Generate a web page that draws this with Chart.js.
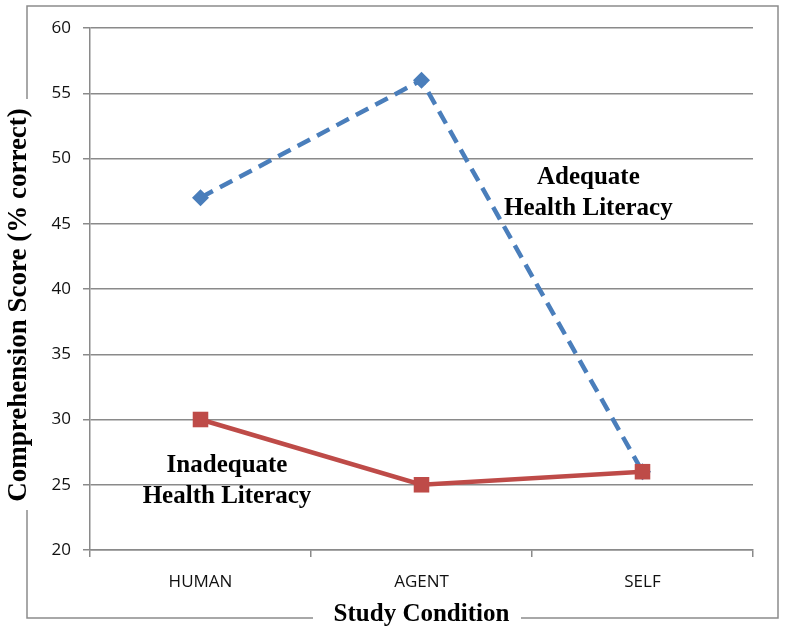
<!DOCTYPE html>
<html>
<head>
<meta charset="utf-8">
<script src="https://cdn.jsdelivr.net/npm/chart.js@4"></script>
<style>
  body { margin: 0; background: #fff; }
  #wrap { width: 785px; height: 634px; }
</style>
</head>
<body>
<div id="wrap"><canvas id="score-chart"></canvas></div>
<script>
const conditions = ['HUMAN', 'AGENT', 'SELF'];
const adequateScores = [47, 56, 26];
const inadequateScores = [30, 25, 26];
const yTicks = [20, 25, 30, 35, 40, 45, 50, 55, 60];

const blue = '#4a7ebb';
const red = '#be4b48';
const gridGray = '#8a8a8a';
const serif = '"Liberation Serif", "Times New Roman", serif';
const sans = '"Open Sans", "Liberation Sans", sans-serif';

// series labels written inside the plot, placed by data coordinates
const notes = [
    { lines: ['Adequate', 'Health Literacy'], x: 1.755, y: 47.35 },
    { lines: ['Inadequate', 'Health Literacy'], x: 0.12, y: 25.3 }
];

const framePlugin = {
    id: 'frame',
    afterDraw(chart) {
        const ctx = chart.ctx;
        const xs = chart.scales.x, ys = chart.scales.y;
        ctx.save();
        // outer border with gaps for the axis titles
        ctx.strokeStyle = '#8c8c8c';
        ctx.lineWidth = 1.5;
        ctx.beginPath();
        ctx.moveTo(27, 99); ctx.lineTo(27, 6); ctx.lineTo(778, 6);
        ctx.lineTo(778, 618); ctx.lineTo(521, 618);
        ctx.moveTo(313, 618); ctx.lineTo(27, 618); ctx.lineTo(27, 510);
        ctx.stroke();

        ctx.fillStyle = '#000';
        ctx.textAlign = 'center';
        ctx.textBaseline = 'middle';

        // y axis title
        ctx.save();
        ctx.translate(19, 305);
        ctx.rotate(-Math.PI / 2);
        ctx.font = 'bold 27px ' + serif;
        ctx.fillText('Comprehension Score (% correct)', 0, 0);
        ctx.restore();

        ctx.font = 'bold 25px ' + serif;
        notes.forEach(n => {
            const cx = xs.getPixelForValue(n.x);
            const cy = ys.getPixelForValue(n.y);
            n.lines.forEach((t, i) => {
                ctx.fillText(t, cx, cy + (i - (n.lines.length - 1) / 2) * 31);
            });
        });
        ctx.restore();
    }
};

new Chart(document.querySelector('#score-chart').getContext('2d'), {
    type: 'line',
    data: {
        labels: conditions,
        datasets: [
            {
                label: 'Adequate Health Literacy',
                data: adequateScores,
                borderColor: blue,
                backgroundColor: blue,
                borderWidth: 4.5,
                borderDash: [14, 8],
                pointStyle: 'rectRot',
                pointRadius: 8.5,
                pointBorderWidth: 0,
                order: 2
            },
            {
                label: 'Inadequate Health Literacy',
                data: inadequateScores,
                borderColor: red,
                backgroundColor: red,
                borderWidth: 4.5,
                pointStyle: 'rect',
                pointRadius: 11,
                pointBorderWidth: 0,
                order: 1
            }
        ]
    },
    options: {
        responsive: true,
        maintainAspectRatio: false,
        animation: false,
        layout: { padding: { top: 28, right: 32, left: 0, bottom: 0 } },
        plugins: {
            legend: { display: false },
            tooltip: { enabled: false }
        },
        scales: {
            x: {
                offset: true,
                afterFit: s => { s.height = 84; },
                grid: {
                    offset: true,
                    drawOnChartArea: false,
                    drawTicks: true,
                    tickLength: 7,
                    color: gridGray,
                    lineWidth: 1.5
                },
                border: { color: gridGray, width: 1.5 },
                ticks: {
                    color: '#111',
                    padding: 15,
                    font: { family: sans, size: 17 }
                },
                title: {
                    display: true,
                    text: 'Study Condition',
                    color: '#000',
                    padding: { top: 0, bottom: 4 },
                    font: { family: serif, size: 25, weight: 'bold' }
                }
            },
            y: {
                min: 20,
                max: 60,
                afterFit: s => { s.width = 90; },
                afterBuildTicks: s => { s.ticks = yTicks.map(v => ({ value: v })); },
                grid: {
                    color: gridGray,
                    lineWidth: 1.5,
                    tickLength: 7
                },
                border: { color: gridGray, width: 1.5 },
                ticks: {
                    color: '#111',
                    padding: 12,
                    font: { family: sans, size: 17 }
                }
            }
        }
    },
    plugins: [framePlugin]
});
</script>
</body>
</html>
